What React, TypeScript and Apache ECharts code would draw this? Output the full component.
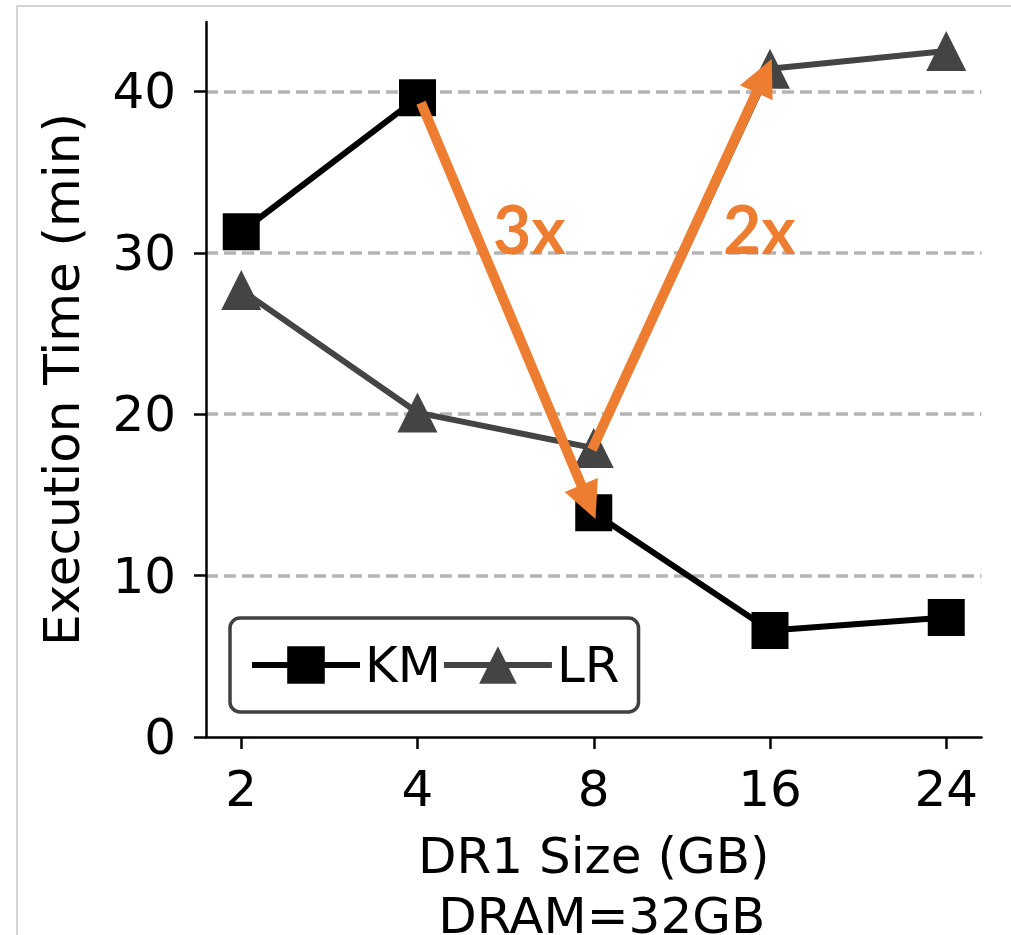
import React, { useEffect, useRef } from "react";
import * as echarts from "echarts";

// ---- data ----
const sizeLabels = ["2", "4", "8", "16", "24"];
const kmTimes = [31.3, 39.6, 13.9, 6.6, 7.4];
const lrTimes = [27.7, 20.1, 17.9, 41.4, 42.5];
const yTickValues = [0, 10, 20, 30, 40];
const xTickValues = [0, 1, 2, 3, 4];
// annotation arrows (in data coordinates: x = category index, y = minutes)
const arrowFrom = [
  [1.02, 39.3],
  [1.99, 17.8],
];
const arrowTo = [
  [2.01, 13.5],
  [3.01, 42.0],
];
const arrowLabels = ["3x", "2x"];
const arrowLabelAt = [
  [1.635, 31.5],
  [2.94, 31.5],
];

const ORANGE = "#ED7D31";
const FONT = "DejaVu Sans";

export default function App() {
  const ref = useRef<HTMLDivElement>(null);

  useEffect(() => {
    if (!ref.current) return;
    const chart = echarts.init(ref.current, null, { renderer: "svg" });

    const option: any = {
      animation: false,
      backgroundColor: "#fff",
      grid: {
        left: 206,
        right: 29.5,
        top: 22,
        bottom: 198,
        containLabel: false,
        outerBoundsMode: "none",
      },
      graphic: [
        {
          type: "rect",
          shape: { x: 17, y: 6, width: 1100, height: 1100 },
          style: { fill: "none", stroke: "#d4d4d4", lineWidth: 2 },
          silent: true,
          z: -10,
        },
      ],
      legend: {
        data: ["KM", "LR"],
        left: 230,
        top: 618,
        orient: "horizontal",
        itemWidth: 108,
        itemHeight: 47,
        itemGap: 0,
        padding: [22, 19, 22, 19],
        borderColor: "#404040",
        borderWidth: 3.5,
        borderRadius: 10,
        backgroundColor: "#fff",
        selectedMode: false,
        lineStyle: { width: 6 },
        textStyle: { fontFamily: FONT, fontSize: 50, color: "#000" },
      },
      xAxis: {
        type: "value",
        min: -0.2,
        max: 4.2,
        name: "DR1 Size (GB)\n\u00a0DRAM=32GB",
        nameLocation: "middle",
        nameGap: 89,
        nameMoveOverlap: false,
        nameTextStyle: {
          fontFamily: FONT,
          fontSize: 50,
          lineHeight: 60,
          color: "#000",
        },
        axisLine: { show: true, onZero: false, lineStyle: { color: "#000", width: 2.5 } },
        axisTick: {
          show: true,
          length: 12,
          customValues: xTickValues,
          lineStyle: { color: "#000", width: 2.5 },
        },
        axisLabel: {
          customValues: xTickValues,
          formatter: (v: number) => sizeLabels[Math.round(v)] ?? "",
          fontFamily: FONT,
          fontSize: 50,
          lineHeight: 50,
          color: "#000",
          margin: 27,
        },
        splitLine: { show: false },
      },
      yAxis: {
        type: "value",
        min: 0,
        max: 44.3,
        interval: 10,
        name: "Execution Time (min)",
        nameLocation: "middle",
        nameGap: 119,
        nameRotate: 90,
        nameMoveOverlap: false,
        nameTextStyle: { fontFamily: FONT, fontSize: 50, color: "#000" },
        axisLine: { show: true, onZero: false, lineStyle: { color: "#000", width: 2.5 } },
        axisTick: {
          show: true,
          length: 12,
          customValues: yTickValues,
          lineStyle: { color: "#000", width: 2.5 },
        },
        axisLabel: {
          customValues: yTickValues,
          formatter: (v: number) => (v % 10 === 0 ? String(v) : ""),
          fontFamily: FONT,
          fontSize: 50,
          color: "#000",
          margin: 30,
        },
        splitLine: {
          show: true,
          showMinLine: false,
          lineStyle: { color: "#b4b4b4", width: 3.5, type: [12, 6] },
        },
      },
      series: [
        {
          name: "KM",
          type: "line",
          data: kmTimes.map((v, i) => [i, v]),
          color: "#000",
          symbol: "rect",
          symbolSize: 37,
          lineStyle: { color: "#000", width: 6 },
          itemStyle: { color: "#000" },
          z: 3,
        },
        {
          name: "LR",
          type: "line",
          data: lrTimes.map((v, i) => [i, v]),
          color: "#444444",
          symbol: "triangle",
          symbolSize: 40,
          lineStyle: { color: "#444444", width: 6 },
          itemStyle: { color: "#444444" },
          z: 3,
        },
        {
          name: "arrows",
          type: "custom",
          coordinateSystem: "cartesian2d",
          z: 10,
          data: arrowFrom.map((f, i) => [f[0], f[1], arrowTo[i][0], arrowTo[i][1]]),
          encode: { x: [0, 2], y: [1, 3] },
          renderItem: (params: any, api: any) => {
            const p1 = api.coord([api.value(0), api.value(1)]);
            const p2 = api.coord([api.value(2), api.value(3)]);
            const dx = p2[0] - p1[0];
            const dy = p2[1] - p1[1];
            const len = Math.hypot(dx, dy);
            const ux = dx / len;
            const uy = dy / len;
            const L = 37;
            const W = 18;
            const bx = p2[0] - ux * L;
            const by = p2[1] - uy * L;
            return {
              type: "group",
              children: [
                {
                  type: "line",
                  shape: { x1: p1[0], y1: p1[1], x2: bx + ux * 4, y2: by + uy * 4 },
                  style: { stroke: ORANGE, lineWidth: 10 },
                },
                {
                  type: "polygon",
                  shape: {
                    points: [
                      [p2[0], p2[1]],
                      [bx - uy * W, by + ux * W],
                      [bx + uy * W, by - ux * W],
                    ],
                  },
                  style: { fill: ORANGE },
                },
              ],
            };
          },
        },
        {
          name: "arrowLabels",
          type: "custom",
          coordinateSystem: "cartesian2d",
          z: 11,
          data: arrowLabelAt.map((p) => [p[0], p[1]]),
          encode: { x: 0, y: 1 },
          renderItem: (params: any, api: any) => {
            const p = api.coord([api.value(0), api.value(1)]);
            return {
              type: "text",
              x: p[0],
              y: p[1],
              style: {
                text: arrowLabels[params.dataIndex],
                fill: ORANGE,
                font: "bold 66px Lato",
                align: "center",
                verticalAlign: "middle",
              },
            };
          },
        },
      ],
    };

    chart.setOption(option);
    return () => chart.dispose();
  }, []);

  return (
    <div
      ref={ref}
      style={{ position: "fixed", left: 0, top: 0, width: 1011, height: 935 }}
    />
  );
}
